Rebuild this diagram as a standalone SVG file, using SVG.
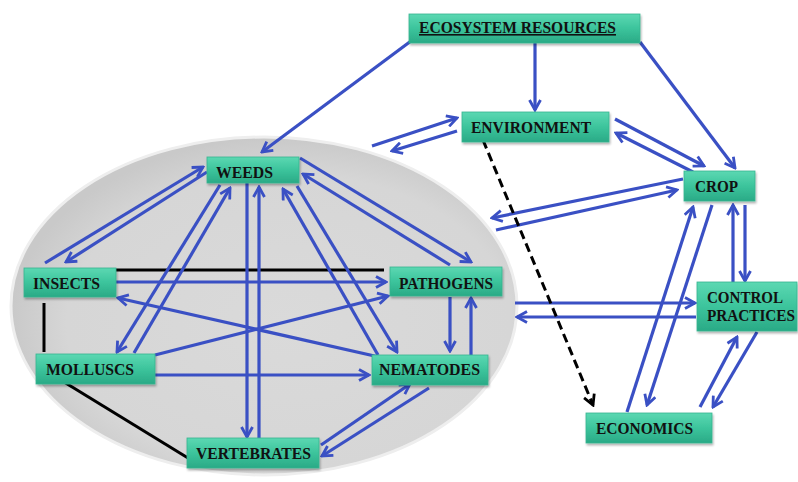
<svg xmlns="http://www.w3.org/2000/svg" width="798" height="482" viewBox="0 0 798 482">
<defs>
<linearGradient id="boxg" x1="0" y1="0" x2="0" y2="1">
<stop offset="0" stop-color="#5cd8b2"/>
<stop offset="0.5" stop-color="#3cc49c"/>
<stop offset="1" stop-color="#2aaa86"/>
</linearGradient>
<radialGradient id="ellg" cx="0.55" cy="0.55" r="0.55">
<stop offset="0" stop-color="#dadada"/>
<stop offset="0.8" stop-color="#d6d6d6"/>
<stop offset="1" stop-color="#c9c9c9"/>
</radialGradient>
<filter id="sh" x="-10%" y="-20%" width="120%" height="150%">
<feDropShadow dx="1" dy="2" stdDeviation="1.2" flood-color="#000" flood-opacity="0.3"/>
</filter>
<marker id="ab" markerUnits="userSpaceOnUse" markerWidth="14" markerHeight="14" viewBox="0 0 14 14" refX="12" refY="7" orient="auto">
<path d="M2,1.5 L12,7 L2,12.5" fill="none" stroke="#3a50c4" stroke-width="2.8"/>
</marker>
<marker id="ak" markerUnits="userSpaceOnUse" markerWidth="14" markerHeight="14" viewBox="0 0 14 14" refX="12" refY="7" orient="auto">
<path d="M2,1.5 L12,7 L2,12.5" fill="none" stroke="#000" stroke-width="2.8"/>
</marker>
</defs>
<style>
.box{fill:url(#boxg);stroke:#36b48f;stroke-width:0.8;filter:url(#sh)}
.lbl{font-family:"Liberation Serif","Times New Roman",serif;font-weight:bold;font-size:16px;fill:#111}
.b{fill:none;stroke:#3a50c4;stroke-width:3.2;marker-end:url(#ab)}
.k{fill:none;stroke:#000;stroke-width:3}
.d{fill:none;stroke:#000;stroke-width:3;stroke-dasharray:9,5;marker-end:url(#ak)}
</style>
<rect width="798" height="482" fill="#fff"/>
<ellipse id="bg-ellipse" cx="264" cy="306" rx="253" ry="169" fill="url(#ellg)" stroke="#eeeeee" stroke-width="3"/>
<g id="connectors">
<path class="b" d="M535,43 L535,110"/>
<path class="b" d="M640,42 L735,168"/>
<path class="b" d="M411,41 L262,152"/>
<path class="b" d="M615,119 L704,166"/>
<path class="b" d="M693,172 L616,133"/>
<path class="b" d="M372,146 L457,118"/>
<path class="b" d="M457,131 L392,151"/>
<path class="b" d="M683,179 L492,218"/>
<path class="b" d="M496,230 L677,190"/>
<path class="b" d="M515,303 L695,303"/>
<path class="b" d="M696,317 L517,317"/>
<path class="b" d="M733,282 L733,205"/>
<path class="b" d="M745,205 L745,281"/>
<path class="b" d="M627,412 L693,207"/>
<path class="b" d="M712,205 L647,405"/>
<path class="b" d="M700,407 L737,337"/>
<path class="b" d="M757,332 L713,407"/>
<path class="d" d="M483,140 L593,405"/>
<path class="k" d="M116,270 L384,270"/>
<path class="k" d="M44,303 L44,352"/>
<path class="k" d="M64,382 L188,458"/>
<path class="b" d="M45,263 L203,167"/>
<path class="b" d="M207,172 L66,262"/>
<path class="b" d="M116,282 L386,282"/>
<path class="b" d="M379,357 L118,298"/>
<path class="b" d="M155,355 L388,296"/>
<path class="b" d="M155,375 L369,375"/>
<path class="b" d="M220,185 L117,352"/>
<path class="b" d="M134,353 L230,188"/>
<path class="b" d="M247,183 L247,437"/>
<path class="b" d="M259,438 L259,187"/>
<path class="b" d="M378,355 L283,189"/>
<path class="b" d="M297,186 L397,352"/>
<path class="b" d="M300,158 L471,262"/>
<path class="b" d="M450,265 L303,174"/>
<path class="b" d="M450,297 L450,351"/>
<path class="b" d="M471,355 L471,298"/>
<path class="b" d="M321,445 L410,384"/>
<path class="b" d="M429,388 L322,456"/>
</g>
<g id="ecosystem-resources"><rect class="box" x="409" y="14" width="231" height="29"/><text class="lbl" x="419" y="33" textLength="197" lengthAdjust="spacingAndGlyphs" text-decoration="underline">ECOSYSTEM RESOURCES</text></g>
<g id="environment"><rect class="box" x="462" y="112" width="147" height="30"/><text class="lbl" x="471" y="133" textLength="120" lengthAdjust="spacingAndGlyphs">ENVIRONMENT</text></g>
<g id="weeds"><rect class="box" x="207" y="157" width="92" height="26"/><text class="lbl" x="216" y="178" textLength="57" lengthAdjust="spacingAndGlyphs">WEEDS</text></g>
<g id="crop"><rect class="box" x="684" y="171" width="71" height="30"/><text class="lbl" x="695" y="192" textLength="43" lengthAdjust="spacingAndGlyphs">CROP</text></g>
<g id="insects"><rect class="box" x="24" y="268" width="92" height="29"/><text class="lbl" x="33" y="289" textLength="67" lengthAdjust="spacingAndGlyphs">INSECTS</text></g>
<g id="pathogens"><rect class="box" x="390" y="267" width="112" height="29"/><text class="lbl" x="399" y="289" textLength="94" lengthAdjust="spacingAndGlyphs">PATHOGENS</text></g>
<g id="molluscs"><rect class="box" x="36" y="354" width="119" height="30"/><text class="lbl" x="46" y="375" textLength="88" lengthAdjust="spacingAndGlyphs">MOLLUSCS</text></g>
<g id="nematodes"><rect class="box" x="372" y="355" width="116" height="30"/><text class="lbl" x="379" y="375" textLength="101" lengthAdjust="spacingAndGlyphs">NEMATODES</text></g>
<g id="vertebrates"><rect class="box" x="187" y="438" width="132" height="30"/><text class="lbl" x="196" y="459" textLength="115" lengthAdjust="spacingAndGlyphs">VERTEBRATES</text></g>
<g id="control-practices"><rect class="box" x="697" y="282" width="100" height="49"/><text class="lbl" x="707" y="303" textLength="76" lengthAdjust="spacingAndGlyphs">CONTROL</text><text class="lbl" x="707" y="321" textLength="88" lengthAdjust="spacingAndGlyphs">PRACTICES</text></g>
<g id="economics"><rect class="box" x="586" y="413" width="126" height="30"/><text class="lbl" x="596" y="434" textLength="97" lengthAdjust="spacingAndGlyphs">ECONOMICS</text></g>
</svg>
